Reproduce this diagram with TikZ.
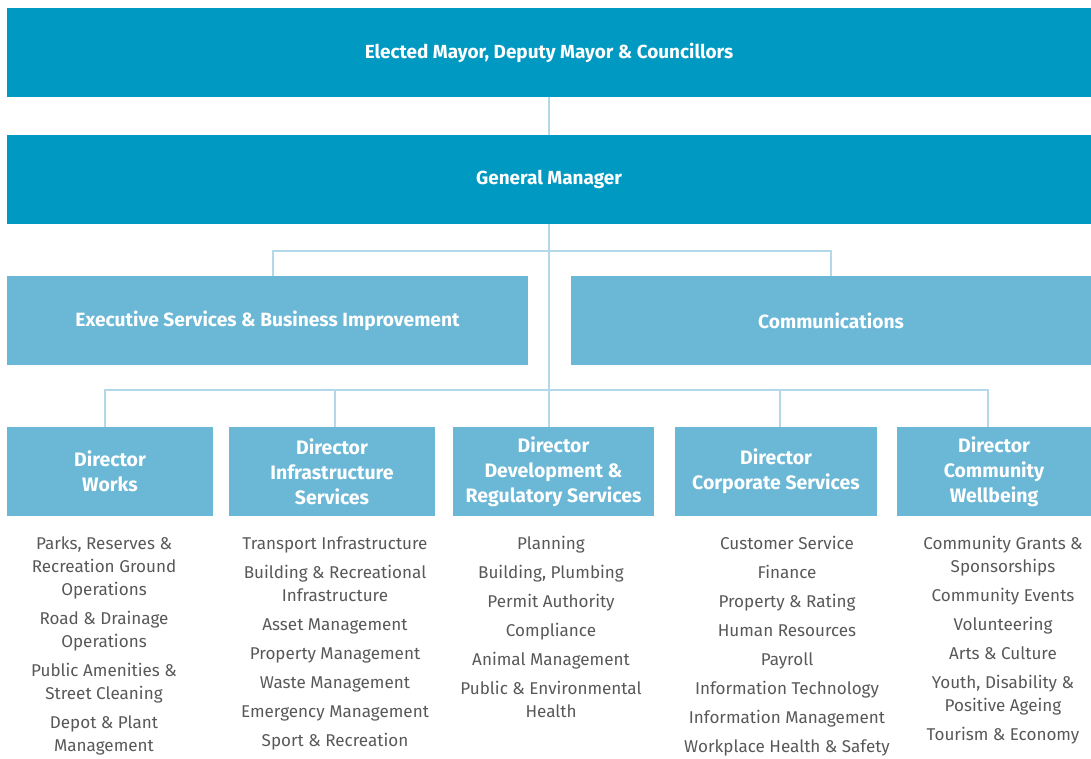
\documentclass[tikz,border=0pt]{standalone}
\usepackage{fontspec}
\setmainfont{Fira Sans}
\usetikzlibrary{positioning, calc}
\definecolor{topblue}{RGB}{0,153,194}
\definecolor{midblue}{RGB}{106,183,214}
\definecolor{linkblue}{RGB}{178,216,234}
\definecolor{itemgrey}{RGB}{88,88,88}
\tikzset{
    topbox/.style={rectangle, fill=topblue, text=white, minimum height=66.75pt, inner sep=0pt,
        font=\fontsize{14.2}{18}\selectfont\bfseries},
    unitbox/.style={rectangle, fill=midblue, text=white, minimum height=66.75pt, inner sep=0pt,
        font=\fontsize{14.4}{18}\selectfont\bfseries},
    dirbox/.style={unitbox, align=center, font=\fontsize{14.6}{18.75}\selectfont\bfseries},
    items/.style={anchor=north, align=center, text=itemgrey, inner sep=0pt,
        font=\fontsize{12.8}{17.25}\selectfont},
    link/.style={draw=linkblue, line width=1.5}
}
\newcommand{\gap}{\\[4.5pt]}

\begin{document}
\begin{tikzpicture}[x=0.75pt, y=-0.75pt]
    \useasboundingbox (0,0) rectangle (1091,758);

    % council and general manager
    \node[topbox, minimum width=813pt] (mayor) at (549,52.5) {Elected Mayor, Deputy Mayor \& Councillors};
    \node[topbox, minimum width=813pt] (gm) at (549,179.5) {General Manager};

    % units under the general manager
    \node[unitbox, minimum width=390.75pt] (exec) at (267.5,320.5) {Executive Services \& Business Improvement};
    \node[unitbox, minimum width=390pt] (comms) at (831,320.5) {Communications};

    % directors
    \node[dirbox, minimum width=154.5pt] (dworks) at (110,471.5) {Director\\Works};
    \node[dirbox, minimum width=154.5pt] (dinfra) at (332,471.5) {Director\\Infrastructure\\Services};
    \node[dirbox, minimum width=150.75pt] (ddev) at (553.5,471.5) {Director\\Development \&\\Regulatory Services};
    \node[dirbox, minimum width=151.5pt] (dcorp) at (776,471.5) {Director\\Corporate Services};
    \node[dirbox, minimum width=145.5pt] (dcomm) at (994,471.5) {Director\\Community\\Wellbeing};

    % connectors
    \coordinate (bus1) at (549,251);
    \coordinate (bus2) at (549,390);
    \draw[link] (mayor.south) -- (gm.north);
    \draw[link] (gm.south) -- (bus2);
    \draw[link] ([xshift=3.75pt]exec.north) |- (bus1) -| (comms.north);
    \draw[link] ([xshift=-3.75pt]dworks.north) |- (bus2) -| (ddev.north -| bus2);
    \draw[link] ([xshift=2.25pt]dinfra.north) -- ([xshift=2.25pt]dinfra.north |- bus2);
    \draw[link] (bus2) -| ([xshift=3pt]dcorp.north);
    \draw[link] (bus2) -| ([xshift=-4.5pt]dcomm.north);

    % sections under each director
    \node[items] (lworks) at (104,536) {Parks, Reserves \&\\Recreation Ground\\Operations\gap
        Road \& Drainage\\Operations\gap Public Amenities \&\\Street Cleaning\gap
        Depot \& Plant\\Management};
    \node[items] (linfra) at (335,536) {Transport Infrastructure\gap
        Building \& Recreational\\Infrastructure\gap Asset Management\gap
        Property Management\gap Waste Management\gap Emergency Management\gap
        Sport \& Recreation};
    \node[items] (ldev) at (551,536) {Planning\gap Building, Plumbing\gap
        Permit Authority\gap Compliance\gap Animal Management\gap
        Public \& Environmental\\Health};
    \node[items] (lcorp) at (787,536) {Customer Service\gap Finance\gap
        Property \& Rating\gap Human Resources\gap Payroll\gap
        Information Technology\gap Information Management\gap
        Workplace Health \& Safety};
    \node[items] (lcomm) at (1003,536) {Community Grants \&\\Sponsorships\gap
        Community Events\gap Volunteering\gap Arts \& Culture\gap
        Youth, Disability \&\\Positive Ageing\gap Tourism \& Economy};
\end{tikzpicture}
\end{document}
